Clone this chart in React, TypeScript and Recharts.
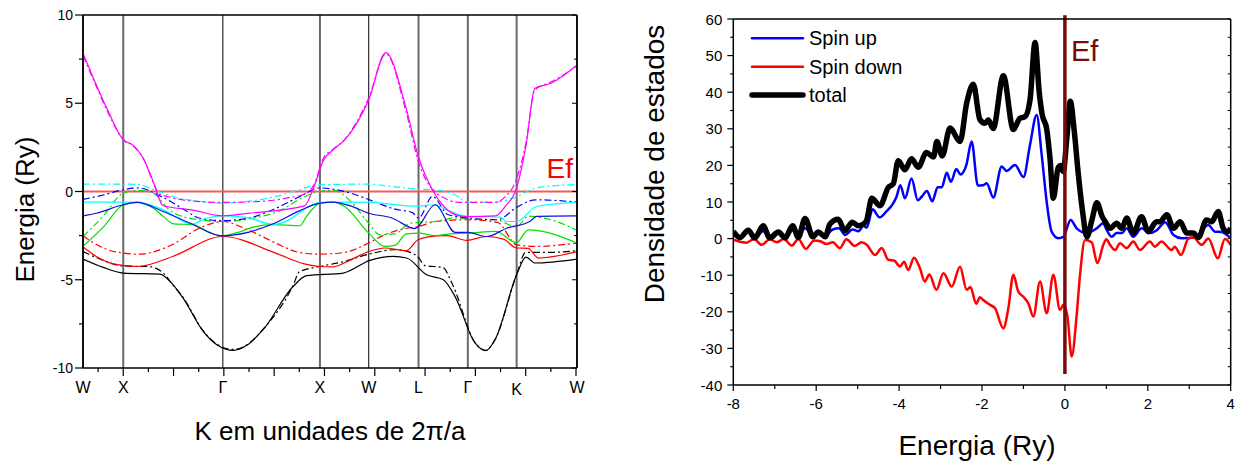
import React from 'react';
import { LineChart, Line, XAxis, YAxis, ReferenceLine, Legend } from 'recharts';

type P = [number, number][];

// ---------- Left panel: band structure ----------
const symLabels = ['W', 'X', 'Γ', 'X', 'W', 'L', 'Γ', 'K', 'W'];
const symPos = [-0.8, 0, 1.98, 3.91, 4.88, 5.87, 6.85, 7.82, 9.02];
const symStyle = ['edge', 'gray', 'black', 'gray', 'black', 'gray', 'gray', 'gray', 'edge'];
const kTicks = [-0.5, 0, 0.5, 1, 1.5, 2, 2.5, 3, 3.5, 4, 4.5, 5, 5.5, 6, 6.5, 7, 7.5, 8, 8.5, 9];
const eTicks = [-10, -7.5, -5, -2.5, 0, 2.5, 5, 7.5, 10];

const magentaUp: P = [[-0.8,7.83],[-0.535,6.04],[-0.308,4.6],[0,2.92],[0.186,2.64],[0.414,1.79],[0.604,0.5],[0.793,-0.81],[1.363,-1.04],[1.978,-1.38],[2.502,-1.23],[3.603,-0.81],[3.793,0.28],[3.983,1.79],[4.173,2.36],[4.401,2.92],[4.879,5.19],[5.22,7.87],[5.615,4.81],[5.866,1.98],[6.147,0.09],[6.375,-0.85],[6.678,-1.38],[6.845,-1.42],[7.4,-1.38],[7.59,-0.85],[7.818,0.19],[8.008,2.64],[8.182,5.85],[8.502,6.13],[9.02,7.17]];
const magentaDn: P = [[-0.8,7.7],[-0.535,5.95],[-0.308,4.5],[0,2.95],[0.186,2.6],[0.414,1.8],[0.604,0.45],[0.7,-0.1],[0.9,-0.3],[1.4,-0.55],[1.978,-0.62],[2.6,-0.58],[3.3,-0.35],[3.6,-0.15],[3.793,0.4],[3.983,1.9],[4.173,2.4],[4.401,2.95],[4.879,5.3],[5.22,7.8],[5.615,4.6],[5.866,1.7],[6.147,0.1],[6.375,-0.35],[6.6,-0.6],[6.845,-0.62],[7.4,-0.62],[7.59,-0.3],[7.818,0.7],[8.008,2.8],[8.182,5.75],[8.502,6.2],[9.02,7.1]];
const cyanUp: P = [[-0.8,-0.6],[0,-0.6],[0.3,-0.6],[0.795,-1.04],[1.363,-1.83],[1.667,-1.5],[1.978,-1.38],[2.4,-1.45],[3.0,-1.86],[3.33,-1.55],[3.6,-1.0],[3.91,-0.62],[4.88,-0.6],[5.24,-0.7],[5.83,-0.83],[6.2,-0.75],[6.43,-1.04],[6.83,-1.41],[7.49,-1.45],[7.62,-1.7],[7.82,-1.7],[8.22,-0.85],[9.02,-0.62]];
const cyanDn: P = [[-0.8,0.42],[0,0.42],[0.3,0.4],[0.6,0.1],[1.0,-0.3],[1.5,-0.55],[1.978,-0.66],[2.5,-0.55],[3.0,-0.3],[3.5,0.1],[3.91,0.38],[4.88,0.42],[5.3,0.3],[5.87,0.13],[6.2,0.1],[6.6,-0.2],[6.85,-0.6],[7.4,-0.6],[7.82,-0.3],[8.2,0.2],[9.02,0.4]];
const blueUp: P = [[-0.8,-1.38],[-0.535,-1.23],[0,-0.75],[0.265,-0.62],[0.795,-1.13],[1.392,-1.88],[1.955,-2.51],[2.5,-2.3],[2.98,-1.83],[3.5,-1.1],[3.91,-0.66],[4.17,-0.6],[4.5,-0.8],[4.88,-1.23],[5.34,-1.5],[5.8,-2.1],[6.2,-0.75],[6.6,-2.32],[6.85,-2.32],[7.23,-2.55],[7.62,-2.08],[8.08,-1.7],[8.22,-1.41],[9.02,-1.38]];
const blueDn: P = [[-0.8,-0.45],[-0.4,-0.2],[0,0.1],[0.3,0.2],[0.756,-0.28],[1.2,-1.0],[1.5,-1.5],[1.978,-1.65],[2.5,-1.5],[3.0,-1.0],[3.5,-0.3],[3.91,0.2],[4.4,0.0],[4.88,-0.45],[5.4,-1.0],[5.75,-1.2],[5.87,-1.5],[6.15,-0.28],[6.45,-1.3],[6.85,-1.5],[7.44,-1.6],[7.82,-0.9],[8.2,-0.47],[9.02,-0.6]];
const greenUp: P = [[-0.8,-3.11],[-0.383,-1.98],[0,-0.75],[0.265,-0.62],[0.6,-0.95],[0.795,-1.41],[0.994,-1.83],[1.392,-1.88],[1.7,-2.3],[1.955,-2.51],[2.3,-2.3],[2.6,-2.0],[2.98,-1.88],[3.51,-1.94],[3.645,-1.41],[3.91,-0.66],[4.17,-0.6],[4.4,-0.85],[4.88,-2.36],[5.2,-3.11],[5.4,-3.05],[5.63,-2.4],[5.87,-2.36],[6.2,-2.5],[6.5,-2.4],[6.85,-2.36],[7.4,-2.26],[7.82,-2.89],[8.05,-2.17],[9.02,-2.92]];
const greenDn: P = [[-0.8,-2.55],[-0.4,-1.4],[0,-0.1],[0.3,0.06],[0.6,-0.1],[0.9,-1.0],[1.3,-1.5],[1.978,-1.7],[2.6,-1.5],[3.1,-1.1],[3.6,-0.3],[3.91,0.0],[4.2,0.06],[4.5,-0.5],[4.88,-1.8],[5.1,-2.45],[5.4,-2.4],[5.7,-1.8],[5.87,-1.75],[6.2,-1.7],[6.6,-1.5],[6.85,-1.55],[7.4,-1.6],[7.82,-2.0],[8.05,-1.4],[8.5,-1.6],[9.02,-2.2]];
const redUp: P = [[-0.8,-3.15],[-0.535,-3.68],[-0.2,-4.1],[0.3,-4.25],[0.98,-3.68],[1.98,-2.55],[3.03,-3.49],[3.6,-4.1],[3.91,-4.25],[4.17,-4.27],[4.5,-3.9],[4.88,-3.4],[5.2,-3.2],[5.63,-3.35],[5.86,-2.73],[6.24,-2.51],[6.43,-2.5],[6.83,-2.77],[7.23,-2.55],[7.56,-2.7],[7.82,-3.2],[8.05,-3.22],[8.25,-3.77],[9.02,-3.4]];
const redDn: P = [[-0.8,-2.51],[-0.4,-3.2],[0,-3.49],[0.3,-3.55],[0.98,-3.0],[1.5,-2.1],[1.978,-1.7],[2.5,-2.2],[3.03,-2.92],[3.5,-3.45],[3.91,-3.55],[4.4,-3.45],[4.88,-2.92],[5.2,-2.45],[5.6,-2.1],[5.87,-1.98],[6.22,-1.7],[6.85,-1.6],[7.44,-1.75],[7.82,-3.02],[8.2,-3.11],[9.02,-2.92]];
const blackUp: P = [[-0.8,-3.83],[-0.4,-4.3],[0,-4.62],[0.73,-4.68],[0.93,-5.09],[1.19,-6.04],[1.59,-7.92],[1.86,-8.68],[2.19,-9.0],[2.45,-8.73],[2.78,-7.83],[3.38,-5.37],[3.645,-4.77],[4.374,-4.62],[4.904,-3.9],[5.368,-3.68],[5.633,-3.77],[6.031,-4.72],[6.362,-5.0],[6.594,-5.94],[6.992,-8.58],[7.21,-9.02],[7.389,-8.4],[7.82,-4.72],[8.006,-3.72],[8.185,-4.05],[9.02,-3.83]];
const blackDn: P = [[-0.8,-3.4],[-0.4,-3.9],[0,-4.22],[0.5,-4.25],[0.79,-4.6],[0.96,-5.2],[1.19,-6.0],[1.59,-7.9],[1.86,-8.65],[2.19,-8.95],[2.45,-8.7],[2.78,-7.8],[3.38,-5.3],[3.5,-4.55],[3.91,-4.25],[4.4,-3.96],[4.88,-3.55],[5.4,-3.3],[5.63,-3.38],[5.87,-3.75],[6.0,-4.2],[6.35,-4.3],[6.55,-5.3],[6.99,-8.55],[7.21,-9.0],[7.39,-8.4],[7.82,-4.7],[8.0,-3.45],[8.5,-3.45],[9.02,-3.35]];

const bands: { d: P; color: string; dashed: boolean }[] = [
  { d: blackDn, color: '#000000', dashed: true },
  { d: redDn, color: '#ff0000', dashed: true },
  { d: greenDn, color: '#00e000', dashed: true },
  { d: blueDn, color: '#0000ff', dashed: true },
  { d: cyanDn, color: '#00ffff', dashed: true },
  { d: magentaDn, color: '#ff00ff', dashed: true },
  { d: blackUp, color: '#000000', dashed: false },
  { d: redUp, color: '#ff0000', dashed: false },
  { d: greenUp, color: '#00e000', dashed: false },
  { d: cyanUp, color: '#00ffff', dashed: false },
  { d: blueUp, color: '#1010e0', dashed: false },
  { d: magentaUp, color: '#ff00ff', dashed: false },
];

// ---------- Right panel: density of states ----------
const dosXTicks = [-8, -7, -6, -5, -4, -3, -2, -1, 0, 1, 2, 3, 4];
const dosYTicks = [-40, -35, -30, -25, -20, -15, -10, -5, 0, 5, 10, 15, 20, 25, 30, 35, 40, 45, 50, 55, 60];

const totalDos: P = [[-8.0,2.0],[-7.84,0.3],[-7.64,2.3],[-7.48,0.2],[-7.28,3.5],[-7.12,0.2],[-6.91,1.8],[-6.75,0.2],[-6.57,3.5],[-6.43,0.3],[-6.27,5.5],[-6.08,0.5],[-5.95,1.8],[-5.78,0.5],[-5.67,4.0],[-5.47,5.3],[-5.31,2.2],[-5.13,4.5],[-4.98,3.5],[-4.86,4.0],[-4.78,5.1],[-4.66,11.0],[-4.46,9.0],[-4.26,14.0],[-4.14,15.0],[-4.02,21.3],[-3.86,18.8],[-3.7,21.8],[-3.54,19.5],[-3.34,23.5],[-3.17,22.3],[-3.09,26.5],[-2.96,22.6],[-2.77,30.2],[-2.53,26.5],[-2.37,37.0],[-2.21,42.2],[-2.05,32.5],[-1.93,31.5],[-1.85,32.4],[-1.73,30.1],[-1.485,44.5],[-1.244,29.8],[-1.083,32.9],[-0.962,33.3],[-0.84,38.0],[-0.72,53.6],[-0.62,40.0],[-0.55,34.0],[-0.44,30.0],[-0.36,22.0],[-0.28,11.0],[-0.16,19.5],[-0.1,20.0],[-0.04,18.3],[0.05,28.0],[0.13,37.5],[0.22,30.0],[0.32,18.0],[0.42,8.0],[0.53,0.5],[0.65,5.0],[0.77,9.8],[0.9,6.0],[0.98,4.5],[1.09,2.8],[1.25,4.2],[1.37,2.8],[1.49,5.6],[1.65,1.5],[1.85,6.0],[2.01,1.9],[2.21,4.6],[2.29,4.6],[2.46,6.5],[2.62,2.8],[2.78,4.6],[2.94,1.5],[3.1,1.5],[3.22,0.3],[3.42,5.1],[3.54,4.6],[3.7,7.4],[3.82,2.8],[3.92,1.9],[4.0,2.8]];
const spinUp: P = [[-8.0,1.0],[-7.84,0.3],[-7.64,1.8],[-7.48,0.4],[-7.28,2.0],[-7.12,0.4],[-6.91,1.5],[-6.75,0.4],[-6.57,2.3],[-6.43,1.0],[-6.27,2.8],[-6.08,1.0],[-5.95,1.5],[-5.78,0.8],[-5.6,2.5],[-5.45,2.8],[-5.3,1.0],[-5.12,2.5],[-4.98,2.0],[-4.86,3.5],[-4.78,3.0],[-4.64,8.0],[-4.47,5.8],[-4.3,7.5],[-4.15,9.5],[-4.06,11.5],[-3.97,14.6],[-3.86,11.0],[-3.7,16.4],[-3.55,10.5],[-3.45,11.5],[-3.33,13.0],[-3.2,10.2],[-3.07,14.0],[-2.97,14.0],[-2.85,18.0],[-2.75,15.5],[-2.62,19.0],[-2.52,17.5],[-2.38,20.0],[-2.25,26.5],[-2.1,14.5],[-1.97,14.6],[-1.887,15.1],[-1.727,11.2],[-1.525,19.7],[-1.405,18.5],[-1.204,20.1],[-1.0,16.8],[-0.842,25.6],[-0.681,33.8],[-0.56,22.9],[-0.44,10.1],[-0.32,1.9],[-0.158,0.1],[-0.037,0.5],[0.14,5.1],[0.284,2.8],[0.525,1.5],[0.767,2.8],[0.927,4.2],[0.99,2.8],[1.13,0.5],[1.25,1.5],[1.37,1.5],[1.49,2.8],[1.65,0.5],[1.85,2.8],[2.05,1.5],[2.21,2.2],[2.42,4.5],[2.62,1.0],[2.82,0.1],[3.14,0.3],[3.46,3.7],[3.62,1.9],[3.78,1.8],[3.98,0.3]];
const spinDown: P = [[-8.0,-0.3],[-7.68,-1.1],[-7.5,-0.1],[-7.32,-1.7],[-7.12,-0.2],[-6.95,-1.0],[-6.78,-0.1],[-6.59,-1.9],[-6.43,-0.1],[-6.25,-2.8],[-6.05,-0.5],[-5.9,-0.7],[-5.75,-1.5],[-5.6,-1.0],[-5.43,-2.6],[-5.27,-0.2],[-5.07,-2.0],[-4.9,-1.0],[-4.78,-1.7],[-4.58,-4.5],[-4.42,-2.6],[-4.26,-5.8],[-4.12,-6.0],[-3.98,-7.6],[-3.88,-6.3],[-3.78,-8.6],[-3.64,-5.2],[-3.5,-8.0],[-3.38,-11.7],[-3.27,-9.8],[-3.1,-14.0],[-2.93,-9.5],[-2.73,-13.1],[-2.53,-7.7],[-2.37,-14.0],[-2.28,-13.2],[-2.14,-17.8],[-2.05,-16.0],[-1.97,-16.8],[-1.807,-18.1],[-1.686,-19.0],[-1.485,-24.5],[-1.364,-19.0],[-1.244,-9.9],[-1.123,-14.5],[-1.002,-15.9],[-0.882,-17.7],[-0.761,-21.3],[-0.6,-11.7],[-0.44,-20.4],[-0.279,-9.9],[-0.118,-19.5],[-0.037,-18.1],[0.059,-21.0],[0.164,-32.2],[0.284,-20.9],[0.365,-9.9],[0.485,-0.4],[0.646,-1.0],[0.783,-6.7],[0.927,-1.7],[1.0,-0.2],[1.088,-1.7],[1.21,-3.1],[1.33,-1.3],[1.49,-2.6],[1.65,-0.8],[1.81,-3.1],[2.05,-0.8],[2.17,-2.2],[2.33,-0.8],[2.575,-3.1],[2.65,-2.2],[2.8,-4.5],[2.98,0.0],[3.1,0.3],[3.3,-1.7],[3.46,0.0],[3.69,-5.4],[3.86,-0.1],[4.0,-1.7]];

const legendItems = [
  { name: 'Spin up', color: '#0000ff', width: 2.5 },
  { name: 'Spin down', color: '#ff0000', width: 2.5 },
  { name: 'total', color: '#000000', width: 5.5 },
];

const pts = (a: P, kx: string, ky: string) => a.map(([x, y]) => ({ [kx]: x, [ky]: y }));

// ---------- tick renderers ----------
const LeftXTick = (p: any) => {
  const v = p.payload.value;
  const major = Number.isInteger(v);
  return <line x1={p.x} x2={p.x} y1={p.y} y2={p.y + (major ? 8 : 4)} stroke="#000" strokeWidth={1.2} />;
};
const LeftYTick = (p: any) => {
  const v = p.payload.value;
  const major = v % 5 === 0;
  return (
    <g>
      <line x1={p.x - (major ? 8 : 4)} x2={p.x} y1={p.y} y2={p.y} stroke="#000" strokeWidth={1.2} />
      {major && (
        <text x={p.x - 10} y={p.y} textAnchor="end" dominantBaseline="central" fontSize={14} fill="#000">{v}</text>
      )}
    </g>
  );
};
const RightInTick = (p: any) => {
  const v = p.payload.value;
  const major = v % 5 === 0;
  return <line x1={p.x} x2={p.x - (major ? 5 : 3)} y1={p.y} y2={p.y} stroke="#000" strokeWidth={1} />;
};
const DosXTick = (p: any) => {
  const v = p.payload.value;
  const major = v % 2 === 0;
  return (
    <g>
      <line x1={p.x} x2={p.x} y1={p.y} y2={p.y + (major ? 6 : 4)} stroke="#000" strokeWidth={1.2} />
      {major && (
        <text x={p.x} y={p.y + 24} textAnchor="middle" fontSize={15} fill="#000">{v}</text>
      )}
    </g>
  );
};
const DosYTick = (p: any) => {
  const v = p.payload.value;
  const major = v % 10 === 0;
  return (
    <g>
      <line x1={p.x - (major ? 6 : 3)} x2={p.x} y1={p.y} y2={p.y} stroke="#000" strokeWidth={1.2} />
      {major && (
        <text x={p.x - 11} y={p.y} textAnchor="end" dominantBaseline="central" fontSize={15} fill="#000">{v}</text>
      )}
    </g>
  );
};
const DosTopTick = (p: any) => <line x1={p.x} x2={p.x} y1={p.y} y2={p.y + 3} stroke="#000" strokeWidth={1} />;
const DosRightTick = (p: any) => <line x1={p.x} x2={p.x - 3} y1={p.y} y2={p.y} stroke="#000" strokeWidth={1} />;

const renderLegend = () => (
  <svg width={230} height={90} style={{ overflow: 'visible' }}>
    {legendItems.map((it, i) => (
      <g key={it.name}>
        <line x1={0} x2={51} y1={10.3 + i * 28.4} y2={10.3 + i * 28.4} stroke={it.color} strokeWidth={it.width} strokeLinecap="round" />
        <text x={57} y={10.3 + i * 28.4} dominantBaseline="central" fontSize={20} fill="#000">{it.name}</text>
      </g>
    ))}
  </svg>
);

export default function App() {
  const axisStroke = { stroke: '#000', strokeWidth: 1.5 };
  return (
    <div style={{ position: 'absolute', left: 0, top: 0, width: 1239, height: 465, background: '#fff', fontFamily: '"Liberation Sans", Arial, sans-serif' }}>
      <div style={{ position: 'absolute', left: 0, top: 0 }}>
        <LineChart width={620} height={465} margin={{ top: 10, right: 38, bottom: 77, left: 43 }}>
          <XAxis
            dataKey="k" type="number" domain={[-0.8, 9.02]} allowDataOverflow ticks={kTicks} interval={0}
            height={20} tickSize={0} tickMargin={0} tickLine={false} axisLine={axisStroke} tick={<LeftXTick />}
            label={{ content: () => <text x={330} y={440} textAnchor="middle" fontSize={26} fill="#000">K em unidades de 2π/a</text> }}
          />
          <XAxis xAxisId="top" orientation="top" type="number" domain={[-0.8, 9.02]} allowDataOverflow height={5} tick={false} tickLine={false} axisLine={axisStroke} />
          <YAxis
            type="number" domain={[-10, 10]} allowDataOverflow ticks={eTicks} interval={0}
            width={40} tickSize={0} tickMargin={0} tickLine={false} axisLine={axisStroke} tick={<LeftYTick />}
            label={{ content: () => <text x={25} y={209.5} transform="rotate(-90 25 209.5)" textAnchor="middle" dominantBaseline="central" fontSize={26} fill="#000">Energia (Ry)</text> }}
          />
          <YAxis yAxisId="right" orientation="right" type="number" domain={[-10, 10]} allowDataOverflow ticks={eTicks} interval={0} width={5} tickSize={0} tickMargin={0} tickLine={false} axisLine={axisStroke} tick={<RightInTick />} />
          {symPos.map((x, i) => (
            <ReferenceLine
              key={'s' + i} x={x}
              stroke={symStyle[i] === 'gray' ? '#6a6a6a' : '#000'}
              strokeWidth={symStyle[i] === 'gray' ? 2 : symStyle[i] === 'edge' ? 1.5 : 1}
              label={{ value: symLabels[i], position: 'bottom', offset: symLabels[i] === 'K' ? 16 : 13.5, fontSize: 16, fill: '#000' }}
            />
          ))}
          <ReferenceLine
            y={0} stroke="#f45a5a" strokeWidth={2}
            label={{ content: (p: any) => <text x={p.viewBox.x + p.viewBox.width - 4} y={p.viewBox.y - 13.5} textAnchor="end" fontSize={28} fill="#ff0000">Ef</text> }}
          />
          {bands.map((b, i) => (
            <Line
              key={'b' + i} data={pts(b.d, 'k', 'e')} dataKey="e" type="monotone" stroke={b.color}
              strokeWidth={1.2} strokeDasharray={b.dashed ? '7 3 2 3' : undefined} dot={false} activeDot={false} isAnimationActive={false}
            />
          ))}
        </LineChart>
      </div>
      <div style={{ position: 'absolute', left: 630, top: 0 }}>
        <LineChart width={609} height={465} margin={{ top: 14, right: 3.3, bottom: 60, left: 63.3 }}>
          <XAxis
            dataKey="x" type="number" domain={[-8, 4]} allowDataOverflow ticks={dosXTicks} interval={0}
            height={20} tickSize={0} tickMargin={0} tickLine={false} axisLine={axisStroke} tick={<DosXTick />}
            label={{ content: () => <text x={347} y={455} textAnchor="middle" fontSize={28} fill="#000">Energia (Ry)</text> }}
          />
          <XAxis xAxisId="top" orientation="top" type="number" domain={[-8, 4]} allowDataOverflow ticks={dosXTicks} interval={0} height={5} tickSize={0} tickMargin={0} tickLine={false} axisLine={axisStroke} tick={<DosTopTick />} />
          <YAxis
            type="number" domain={[-40, 60]} allowDataOverflow ticks={dosYTicks} interval={0}
            width={40} tickSize={0} tickMargin={0} tickLine={false} axisLine={axisStroke} tick={<DosYTick />}
            label={{ content: () => <text x={34} y={164} transform="rotate(-90 34 164)" textAnchor="middle" fontSize={28} fill="#000">Densidade de estados</text> }}
          />
          <YAxis yAxisId="right" orientation="right" type="number" domain={[-40, 60]} allowDataOverflow ticks={dosYTicks} interval={0} width={5} tickSize={0} tickMargin={0} tickLine={false} axisLine={axisStroke} tick={<DosRightTick />} />
          <Legend content={renderLegend} layout="vertical" align="center" verticalAlign="middle" wrapperStyle={{ position: 'absolute', left: 122, top: 28, width: 230, height: 90 }} />
          <Line name="Spin up" data={pts(spinUp, 'x', 'v')} dataKey="v" type="monotone" stroke="#0000ff" strokeWidth={2.5} dot={false} activeDot={false} isAnimationActive={false} />
          <Line name="Spin down" data={pts(spinDown, 'x', 'v')} dataKey="v" type="monotone" stroke="#ff0000" strokeWidth={2.5} dot={false} activeDot={false} isAnimationActive={false} />
          <Line name="total" data={pts(totalDos, 'x', 'v')} dataKey="v" type="monotone" stroke="#000000" strokeWidth={5.5} dot={false} activeDot={false} isAnimationActive={false} />
          <ReferenceLine
            segment={[{ x: 0, y: -37 }, { x: 0, y: 61 }]} ifOverflow="visible" stroke="#7a0a0a" strokeWidth={3.5}
            label={{ content: (p: any) => <text x={p.viewBox.x + 6} y={p.viewBox.y + 46} fontSize={29} fill="#7a0a0a">Ef</text> }}
          />
        </LineChart>
      </div>
    </div>
  );
}
